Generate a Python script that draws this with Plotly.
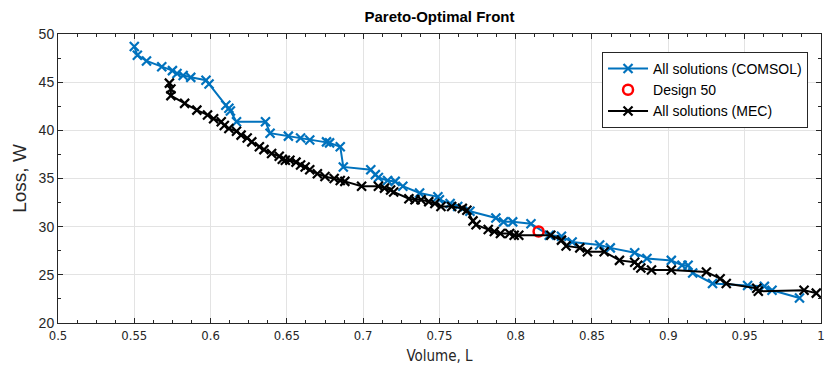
import plotly.graph_objects as go

# COMSOL solutions (Volume L, Loss W)
comsol_vol = [0.550, 0.552, 0.558, 0.568, 0.575, 0.578, 0.582, 0.587, 0.597, 0.599,
              0.610, 0.612, 0.613, 0.617, 0.636, 0.639, 0.651, 0.659, 0.665, 0.676,
              0.678, 0.685, 0.687, 0.705, 0.708, 0.710, 0.716, 0.721, 0.726, 0.737,
              0.749, 0.750, 0.757, 0.762, 0.770, 0.787, 0.792, 0.798, 0.810, 0.822,
              0.830, 0.837, 0.855, 0.862, 0.878, 0.886, 0.902, 0.909, 0.913, 0.916,
              0.929, 0.952, 0.963, 0.968, 0.986]
comsol_loss = [48.7, 47.8, 47.2, 46.6, 46.2, 45.9, 45.7, 45.5, 45.2, 44.8,
               42.6, 42.3, 42.0, 40.9, 40.9, 39.7, 39.4, 39.2, 39.0, 38.8,
               38.7, 38.3, 36.2, 35.9, 35.4, 35.1, 34.8, 34.7, 34.2, 33.5,
               33.1, 32.8, 32.4, 32.1, 31.6, 30.9, 30.5, 30.5, 30.3, 29.1,
               29.0, 28.4, 28.1, 27.8, 27.3, 26.7, 26.5, 26.0, 26.0, 25.2,
               24.1, 23.9, 23.8, 23.4, 22.6]

# MEC solutions
mec_vol = [0.573, 0.574, 0.574, 0.583, 0.591, 0.598, 0.602, 0.607, 0.609, 0.612,
           0.617, 0.620, 0.624, 0.627, 0.632, 0.635, 0.640, 0.645, 0.647, 0.649,
           0.652, 0.656, 0.659, 0.662, 0.665, 0.670, 0.675, 0.681, 0.685, 0.688,
           0.699, 0.710, 0.714, 0.718, 0.720, 0.730, 0.734, 0.738, 0.743, 0.747,
           0.751, 0.758, 0.765, 0.768, 0.772, 0.774, 0.782, 0.786, 0.790, 0.796,
           0.799, 0.802, 0.823, 0.830, 0.833, 0.842, 0.847, 0.858, 0.868, 0.878,
           0.880, 0.882, 0.889, 0.902, 0.925, 0.934, 0.938, 0.958, 0.959, 0.989,
           0.997]
mec_loss = [44.9, 44.3, 43.6, 42.8, 42.1, 41.6, 41.2, 40.9, 40.5, 40.2,
            39.9, 39.5, 39.2, 38.8, 38.3, 38.0, 37.6, 37.3, 37.0, 36.9,
            36.9, 36.7, 36.4, 36.2, 35.9, 35.5, 35.2, 35.0, 34.8, 34.7,
            34.2, 34.2, 34.0, 33.8, 33.6, 32.9, 32.8, 32.8, 32.6, 32.4,
            32.1, 32.1, 31.9, 31.7, 30.6, 30.2, 29.7, 29.5, 29.3, 29.3,
            29.1, 29.1, 29.1, 28.6, 28.0, 27.8, 27.4, 27.4, 26.5, 26.3,
            26.0, 25.7, 25.5, 25.5, 25.3, 24.6, 24.1, 23.6, 23.3, 23.4,
            23.1]

design_vol = [0.815]
design_loss = [29.5]

x_ticks = [0.5, 0.55, 0.6, 0.65, 0.7, 0.75, 0.8, 0.85, 0.9, 0.95, 1.0]
x_labels = ["0.5", "0.55", "0.6", "0.65", "0.7", "0.75", "0.8", "0.85", "0.9", "0.95", "1"]
y_ticks = [20, 25, 30, 35, 40, 45, 50]

BLUE = "#0072BD"
AX = "#262626"
NARROW = "DejaVu Sans Condensed, Liberation Sans, Arial"

fig = go.Figure()
fig.add_trace(go.Scatter(
    x=comsol_vol, y=comsol_loss, mode="lines+markers", name="All solutions (COMSOL)",
    line=dict(color=BLUE, width=2),
    marker=dict(symbol="x-thin", size=9, line=dict(color=BLUE, width=2.2))))
fig.add_trace(go.Scatter(
    x=design_vol, y=design_loss, mode="markers", name="Design 50",
    marker=dict(symbol="circle-open", size=10, color="#FF0000", line=dict(color="#FF0000", width=2.5))))
fig.add_trace(go.Scatter(
    x=mec_vol, y=mec_loss, mode="lines+markers", name="All solutions (MEC)",
    line=dict(color="black", width=2),
    marker=dict(symbol="x-thin", size=9, line=dict(color="black", width=2.2))))

axis_common = dict(
    showline=True, linecolor=AX, linewidth=1, mirror="allticks",
    ticks="inside", ticklen=5, tickcolor=AX, automargin=False,
    showgrid=True, gridcolor="#E3E3E3", gridwidth=1, zeroline=False,
    ticklabeloverflow="allow",
)

fig.update_layout(
    width=827, height=377,
    margin=dict(l=58, r=6, t=34, b=54),
    paper_bgcolor="white", plot_bgcolor="white",
    font=dict(family="Liberation Sans, Arial", color=AX, size=13),
    title=dict(text="<b>Pareto-Optimal Front</b>", x=(58 + 821) / 2 / 827, xanchor="center",
               y=1 - 17 / 377, yanchor="middle", font=dict(size=15, color="black")),
    xaxis=dict(range=[0.5, 1.0001], tickvals=x_ticks, ticktext=x_labels,
               minor=dict(dtick=0.0125, ticks="inside", ticklen=3, tickcolor=AX, showgrid=False),
               tickfont=dict(family=NARROW, size=13),
               title=dict(text="Volume, L", font=dict(family=NARROW, size=15), standoff=8),
               **axis_common),
    yaxis=dict(range=[20, 50], tickvals=y_ticks,
               minor=dict(dtick=2.5, ticks="inside", ticklen=3, tickcolor=AX, showgrid=False),
               tickfont=dict(size=14),
               title=dict(text="Loss, W", font=dict(size=19), standoff=6),
               **axis_common),
    legend=dict(x=0.983, xanchor="right", y=0.938, yanchor="top",
                bordercolor=AX, borderwidth=1, bgcolor="white",
                font=dict(size=14, color="black"), itemwidth=40,
                tracegroupgap=0),
    showlegend=True,
)

fig.write_html("out.html", config={"displayModeBar": False},
               post_script="document.body.style.margin='0';document.body.style.overflow='hidden';")
